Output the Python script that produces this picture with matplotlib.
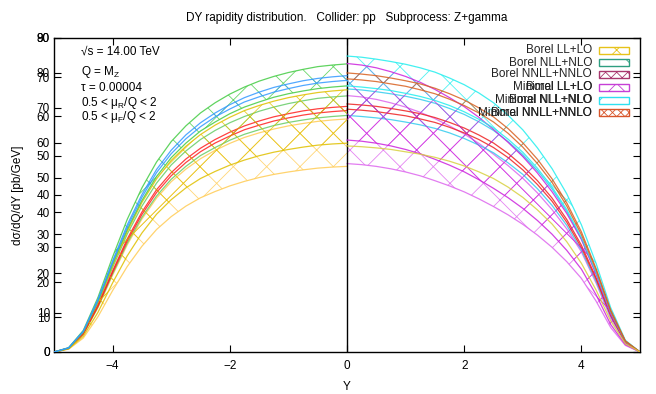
import matplotlib
matplotlib.use("Agg")
import matplotlib.pyplot as plt
from matplotlib.patches import Rectangle

plt.rcParams['font.family'] = ['Liberation Sans', 'DejaVu Sans']
plt.rcParams['font.size'] = 8.5
plt.rcParams['hatch.linewidth'] = 0.6

# rapidity grid, left half (Borel) and right half (Minimal)
y_left = [-5, -4.75, -4.5, -4.25, -4, -3.75, -3.5, -3.25, -3, -2.75, -2.5,
          -2.25, -2, -1.75, -1.5, -1.25, -1, -0.75, -0.5, -0.25, 0]
y_right = [0, 0.25, 0.5, 0.75, 1, 1.25, 1.5, 1.75, 2, 2.25, 2.5,
           2.75, 3, 3.25, 3.5, 3.75, 4, 4.25, 4.5, 4.75, 5]

# Borel bands (low / high)
borel_ll_lo = [0, 0.8, 4.0, 10.1, 17.6, 24.5, 30.3, 35.1, 38.8, 41.8, 44.2,
               46.0, 47.6, 48.9, 50.0, 50.9, 51.6, 52.2, 52.7, 53.0, 53.2]
borel_ll_hi = [0, 1.0, 5.0, 12.7, 22.0, 30.7, 38.1, 44.1, 48.8, 52.4, 55.4,
               57.8, 59.8, 61.5, 62.8, 63.9, 64.8, 65.5, 66.1, 66.5, 66.8]
borel_nll_lo = [0, 1.0, 5.1, 12.9, 22.4, 31.2, 38.6, 44.7, 49.5, 53.2, 56.3,
                58.6, 60.7, 62.4, 63.7, 64.9, 65.8, 66.5, 67.1, 67.5, 67.8]
borel_nll_hi = [0, 1.1, 5.5, 13.9, 24.2, 33.8, 41.8, 48.4, 53.6, 57.6, 60.9,
                63.5, 65.7, 67.5, 69.0, 70.2, 71.2, 72.0, 72.7, 73.1, 73.4]
borel_nnll_lo = [0, 1.0, 5.2, 13.1, 22.8, 31.8, 39.4, 45.7, 50.5, 54.3, 57.4,
                 59.9, 61.9, 63.7, 65.0, 66.2, 67.1, 67.9, 68.5, 68.9, 69.2]
borel_nnll_hi = [0, 1.1, 5.3, 13.4, 23.2, 32.4, 40.1, 46.5, 51.4, 55.3, 58.4,
                 60.9, 63.0, 64.8, 66.2, 67.4, 68.3, 69.1, 69.7, 70.1, 70.4]
# lower Borel LL edge as it runs on into the right half
borel_ll_lo_right = [52.5, 52.3, 52.0, 51.6, 51.0, 50.4, 49.6, 48.6, 47.4, 45.9, 44.2,
                     42.0, 39.4, 36.2, 32.6, 28.1, 22.6, 15.8, 7.9, 2.1, 0]

# Minimal bands (low / high)
min_ll_lo = [54.0, 53.7, 53.2, 52.5, 51.6, 50.5, 49.1, 47.6, 45.9, 43.9, 41.7,
             39.3, 36.6, 33.5, 30.0, 25.9, 21.1, 14.6, 7.0, 1.9, 0]
min_ll_hi = [73.5, 73.1, 72.4, 71.4, 70.2, 68.7, 66.9, 64.8, 62.5, 59.8, 56.7,
             53.4, 49.8, 45.6, 40.8, 35.3, 28.7, 19.8, 9.6, 2.6, 0]
min_nll_lo = [67.8, 67.5, 67.1, 66.6, 65.9, 65.1, 64.1, 62.8, 61.2, 59.3, 57.1,
              54.2, 50.9, 46.8, 42.0, 36.3, 29.2, 20.3, 10.2, 2.7, 0]
min_nll_hi = [75.4, 75.1, 74.6, 74.0, 73.3, 72.4, 71.3, 69.8, 68.1, 66.0, 63.5,
              60.3, 56.6, 52.0, 46.7, 40.3, 32.4, 22.6, 11.3, 3.0, 0]
min_nnll_lo = [69.6, 69.3, 68.9, 68.3, 67.7, 66.8, 65.8, 64.4, 62.8, 60.9, 58.6,
               55.7, 52.2, 48.0, 43.2, 37.2, 29.9, 20.9, 10.4, 2.8, 0]
min_nnll_hi = [71.1, 70.8, 70.4, 69.8, 69.1, 68.3, 67.2, 65.8, 64.2, 62.2, 59.9,
               56.9, 53.3, 49.1, 44.1, 38.0, 30.6, 21.3, 10.7, 2.8, 0]

labels = ['Borel LL+LO', 'Borel NLL+NLO', 'Borel NNLL+NNLO',
          'Minimal LL+LO', 'Minimal NLL+NLO', 'Minimal NNLL+NNLO']
key_colors = ['#e6c21a', '#2e9e80', '#a8386e', '#c63fd6', '#2ee0f0', '#d8552a']
key_hatch = ['/\\', '\\', 'xxx', 'x', '/', 'xxxx']

bands_left = [(borel_ll_lo, borel_ll_hi), (borel_nll_lo, borel_nll_hi),
              (borel_nnll_lo, borel_nnll_hi)]
bands_right = [(min_ll_lo, min_ll_hi), (min_nll_lo, min_nll_hi),
               (min_nnll_lo, min_nnll_hi)]

# two overlaid plots, one for y range 0-90, one for 0-80
col_a_left = ['#ffcc55', '#66cc66', '#ff2020']
col_b_left = ['#e0c000', '#44cc44', '#3399ff']
col_a_right = ['#dd66ee', '#33ccee', '#ee2222']
col_b_right = ['#cc22dd', '#22eeee', '#d86020']

fig = plt.figure(figsize=(6.56, 3.94), dpi=100)
ax = fig.add_axes([0.0823, 0.1066, 0.8933, 0.797])
ax2 = ax.twinx()


def draw_band(axe, x, lo, hi, c):
    axe.fill_between(x, lo, hi, facecolor='none', edgecolor=c, hatch='x', linewidth=0, alpha=0.8)
    axe.plot(x, lo, color=c, lw=0.9, alpha=0.85)
    axe.plot(x, hi, color=c, lw=0.9, alpha=0.85)


for (lo, hi), ca, cb in zip(bands_left, col_a_left, col_b_left):
    draw_band(ax, y_left, lo, hi, ca)
    draw_band(ax2, y_left, lo, hi, cb)
for (lo, hi), ca, cb in zip(bands_right, col_a_right, col_b_right):
    draw_band(ax, y_right, lo, hi, ca)
    draw_band(ax2, y_right, lo, hi, cb)
ax2.plot(y_right, borel_ll_lo_right, color='#d8d040', lw=0.9, alpha=0.85)

ax.axvline(0, color='black', lw=1.0, zorder=5)

for a, top in ((ax, 90), (ax2, 80)):
    a.set_xlim(-5, 5)
    a.set_ylim(0, top)
    a.set_yticks(range(0, top + 1, 10))
    a.yaxis.set_ticks_position('both')
    a.tick_params(axis='y', direction='in', length=5, left=True, right=True,
                  labelleft=True, labelright=False, width=0.8, pad=3)
ax.set_xticks([-4, -2, 0, 2, 4])
ax.tick_params(axis='x', direction='in', length=5, top=True, bottom=True, width=0.8, pad=6)
for sp in ax.spines.values():
    sp.set_linewidth(1.0)
for sp in ax2.spines.values():
    sp.set_visible(False)

ax.set_xlabel('Y', labelpad=6)
fig.text(0.028, 0.505, 'd\u03c3/dQ/dY [pb/GeV]', rotation=90, ha='center', va='center')
fig.text(0.529, 0.955, 'DY rapidity distribution.   Collider: pp   Subprocess: Z+gamma',
         ha='center', va='center')

info = ['\u221as = 14.00 TeV', 'Q = M$_\\mathregular{Z}$', '\u03c4 = 0.00004',
        '0.5 < \u03bc$_\\mathregular{R}$/Q < 2', '0.5 < \u03bc$_\\mathregular{F}$/Q < 2']
info_y = [342, 322, 306, 291, 277]
for t, yy in zip(info, info_y):
    fig.text(81 / 656, yy / 394, t, ha='left', va='center')

# key, drawn by hand like gnuplot's
row_y = [344, 331.3, 319.7, 306.7, 293.7, 281.3]
for i, (lab, c, h) in enumerate(zip(labels, key_colors, key_hatch)):
    yy = row_y[i] / 394
    fig.text(592 / 656, yy, lab, ha='right', va='center', color='#222222')
    if i >= 3:
        fig.text(592 / 656, yy, labels[i - 3], ha='right', va='center', color='#222222')
    fig.patches.append(Rectangle((599 / 656, yy - 3.5 / 394), 30 / 656, 7 / 394,
                                 transform=fig.transFigure, facecolor='white',
                                 edgecolor=c, hatch=h, linewidth=1.0, zorder=6))

fig.savefig('out.png', dpi=100)
